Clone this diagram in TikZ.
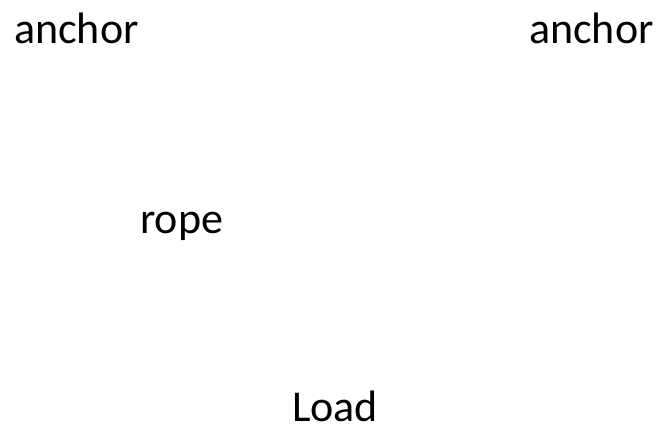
\documentclass[tikz,border=0pt]{standalone}
\usepackage{fontspec}
\setmainfont{Carlito}
\begin{document}
\begin{tikzpicture}[x=1pt,y=-1pt,
  lbl/.style={inner sep=0pt,anchor=base west,font=\fontsize{44}{48}\selectfont}]
\useasboundingbox[fill=white] (0,0) rectangle (661,426);
\node[lbl] (anchorL) at (14,43) {anchor};
\node[lbl] (anchorR) at (529,43) {anchor};
\node[lbl] (rope) at (140,233) {rope};
\node[lbl] (load) at (292,421) {Load};
\end{tikzpicture}
\end{document}
